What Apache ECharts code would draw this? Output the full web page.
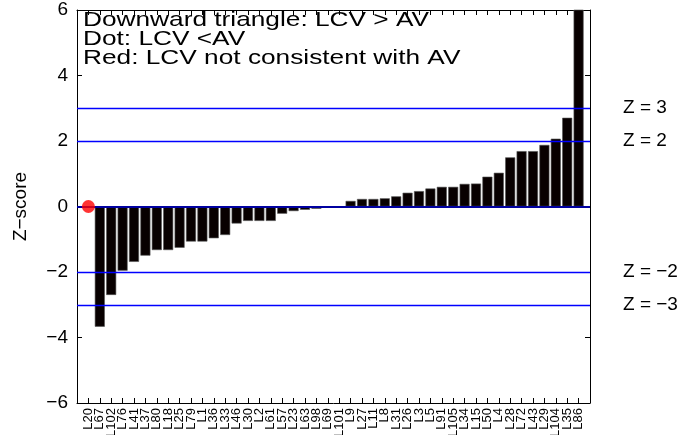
<!DOCTYPE html>
<html>
<head>
<meta charset="utf-8">
<script src="https://cdn.jsdelivr.net/npm/echarts@6/dist/echarts.min.js"></script>
<style>html,body{margin:0;padding:0;background:#fff;}#c{width:687px;height:435px;}</style>
</head>
<body>
<div id="c"></div>
<script>
var categories = ['L20','L67','L102','L76','L41','L37','L80','L18','L25','L79','L1','L36','L33','L46','L30','L2','L61','L57','L23','L63','L98','L69','L101','L9','L27','L11','L8','L31','L26','L3','L5','L91','L105','L34','L15','L50','L4','L28','L72','L43','L29','L104','L35','L86'];
var zValues = [0,-3.67,-2.70,-1.96,-1.69,-1.50,-1.33,-1.33,-1.26,-1.07,-1.07,-0.97,-0.87,-0.52,-0.44,-0.44,-0.44,-0.22,-0.14,-0.10,-0.07,-0.03,-0.01,0.17,0.23,0.23,0.25,0.31,0.42,0.47,0.55,0.60,0.60,0.69,0.70,0.91,1.03,1.50,1.69,1.69,1.88,2.07,2.71,8.0];
var redDots = [['L20', 0]];
var zLines = [3, 2, -2, -3];
var zeroLine = [0];
var yTicks = [-6, -4, -2, 0, 2, 4, 6];
var noteLines = ['Downward triangle: LCV > AV', 'Dot: LCV <AV', 'Red: LCV not consistent with AV'];

var FONT = 'Liberation Sans, Arial, Helvetica, sans-serif';
function minus(v){ return String(v).replace('-', '\u2212'); }

var barData = [];
for (var i = 1; i < categories.length; i++) barData.push([i + 1, zValues[i]]);
var dotData = redDots.map(function(d){ return [categories.indexOf(d[0]) + 1, d[1]]; });

var xCommon = {
  type: 'value', min: 0, max: categories.length + 1, interval: 1,
  axisLine: {show: true, onZero: false, lineStyle: {color: '#000', width: 1}},
  axisTick: {show: true, inside: true, length: 5, lineStyle: {color: '#000'}},
  splitLine: {show: false}
};
var yCommon = {
  type: 'value', min: yTicks[0], max: yTicks[yTicks.length - 1], interval: 2,
  axisLine: {show: true, onZero: false, lineStyle: {color: '#000', width: 1}},
  axisTick: {show: true, inside: true, length: 5, lineStyle: {color: '#000'}},
  splitLine: {show: false}
};

var chart = echarts.init(document.getElementById('c'));
chart.setOption({
  animation: false,
  backgroundColor: '#fff',
  grid: {left: 77, right: 97, top: 10, bottom: 32, containLabel: false, outerBoundsMode: 'none'},
  xAxis: [
    Object.assign({}, xCommon, {
      position: 'bottom',
      axisLabel: {
        rotate: 90, fontSize: 13, fontFamily: FONT, color: '#000', margin: 5,
        formatter: function(v){ return (v >= 1 && v <= categories.length) ? categories[v - 1] : ''; }
      }
    }),
    Object.assign({}, xCommon, {position: 'top', axisLabel: {show: false}})
  ],
  yAxis: [
    Object.assign({}, yCommon, {
      position: 'left',
      name: 'Z\u2212score', nameLocation: 'middle', nameGap: 47,
      nameTextStyle: {fontSize: 19, fontFamily: FONT, color: '#000'},
      axisLabel: {fontSize: 19, fontFamily: FONT, color: '#000', margin: 9, formatter: minus}
    }),
    Object.assign({}, yCommon, {position: 'right', axisLabel: {show: false}})
  ],
  series: [
    {
      type: 'bar', data: barData, barWidth: 10, clip: true,
      itemStyle: {color: '#080000', borderColor: '#555', borderWidth: 0.6},
      silent: true,
      markLine: {
        silent: true, symbol: 'none',
        lineStyle: {color: '#0000ff', width: 1.3, type: 'solid'},
        label: {
          show: true, position: 'end', distance: 33, fontSize: 19, fontFamily: FONT, color: '#000',
          formatter: function(p){ return 'Z = ' + minus(p.value); }
        },
        data: zLines.map(function(v){ return {yAxis: v}; }).concat(
          zeroLine.map(function(v){ return {yAxis: v, lineStyle: {color: '#0000a0', width: 2.2}, label: {show: false}}; })
        )
      },
      z: 2
    },
    {
      type: 'scatter', data: dotData, symbol: 'circle', symbolSize: 13,
      itemStyle: {color: '#ff0000'}, silent: true, z: 5
    }
  ],
  graphic: [{
    type: 'text', x: 83, y: 11, scaleX: 1.25, z: 10,
    style: {text: noteLines.join('\n'), font: '21px ' + FONT, fill: '#000', lineHeight: 19, verticalAlign: 'top'}
  }]
});
</script>
</body>
</html>
